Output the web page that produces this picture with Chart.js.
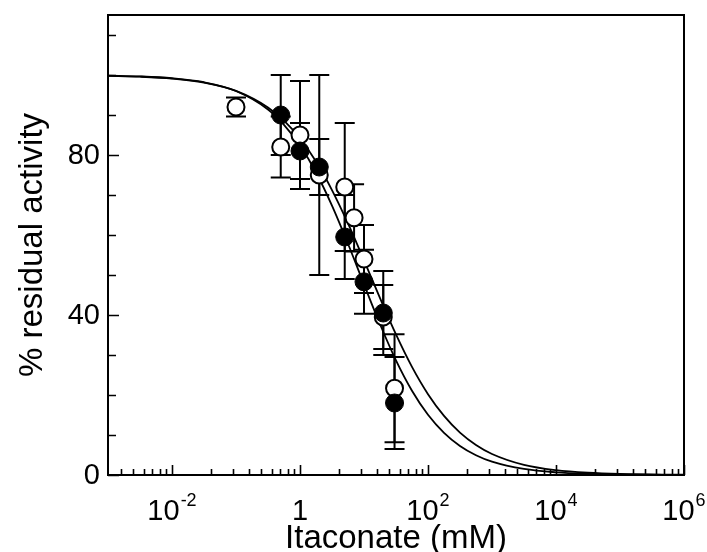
<!DOCTYPE html>
<html><head><meta charset="utf-8">
<script src="https://cdn.jsdelivr.net/npm/chart.js@4/dist/chart.umd.min.js"></script>
<style>html,body{margin:0;padding:0;background:#fff}canvas{display:block}</style>
</head><body>
<canvas id="c" width="707" height="552"></canvas>
<script>
// ---- data ----
const openX   = [0.1, 0.5, 1, 2, 5, 7, 10, 20, 30];
const openY   = [92, 82, 85, 75, 72, 64.3, 54, 39.5, 21.7];
const openErr = [2.4, 7.6, 13.5, 25, 16, 8.4, 8.5, 8, 13.5];

const filledX   = [0.5, 1, 2, 5, 10, 20, 30];
const filledY   = [90, 81, 77, 59.5, 48.3, 40.5, 18];
const filledErr = [10, 7, 7, 10.5, 8, 10.5, 11.5];

// fitted curves
const curveX      = [0.001, 0.00316, 0.01, 0.0316, 0.1, 0.316, 0.562, 1, 1.78, 3.16, 5.62, 10, 17.8, 31.6, 56.2, 100, 178, 316, 562, 1000, 3160, 10000, 31600, 100000, 1000000];
const curveFilled = [99.84, 99.64, 99.19, 98.19, 95.99, 91.37, 87.54, 82.36, 75.62, 67.34, 57.81, 47.65, 37.69, 28.67, 21.08, 15.07, 10.55, 7.27, 4.95, 3.34, 1.51, 0.67, 0.30, 0.13, 0.03];
const curveOpen   = [99.80, 99.58, 99.11, 98.11, 96.04, 91.89, 88.57, 84.12, 78.36, 71.24, 62.88, 53.67, 44.20, 35.14, 27.03, 20.21, 14.77, 10.59, 7.50, 5.25, 2.52, 1.20, 0.56, 0.26, 0.06];

// ticks
const xMajorTicks  = [0.01, 1, 100, 10000, 1000000];
const xMajorBase   = ['10', '1', '10', '10', '10'];
const xMajorExp    = ['-2', '', '2', '4', '6'];
const xMinorTicks  = [0.0016,0.0025,0.0036,0.0049,0.0064,0.0081,
                      0.04,0.09,0.16,0.25,0.36,0.49,0.64,0.81,
                      4,9,16,25,36,49,64,81,
                      400,900,1600,2500,3600,4900,6400,8100,
                      40000,90000,160000,250000,360000,490000,640000,810000];
const yTicks       = [0,10,20,30,40,50,60,70,80,90,100,110];
const yLabelTicks  = [0,40,80];
const xTitle = 'Itaconate (mM)';
const yTitle = '% residual activity';

const FONT = '"Liberation Sans", Arial, Helvetica, sans-serif';

const toXY = (xs, ys) => xs.map((x, i) => ({x: x, y: ys[i]}));

const errorBars = {
  id: 'errorBars',
  beforeDatasetsDraw(chart) {
    const ctx = chart.ctx, xs = chart.scales.x, ys = chart.scales.y;
    ctx.save();
    ctx.strokeStyle = '#000';
    ctx.lineWidth = 2;
    const draw = (X, Y, E) => {
      X.forEach((x, i) => {
        const px = xs.getPixelForValue(x);
        const top = ys.getPixelForValue(Y[i] + E[i]);
        const bot = ys.getPixelForValue(Y[i] - E[i]);
        ctx.beginPath();
        ctx.moveTo(px, top); ctx.lineTo(px, bot);
        ctx.moveTo(px - 10, top); ctx.lineTo(px + 10, top);
        ctx.moveTo(px - 10, bot); ctx.lineTo(px + 10, bot);
        ctx.stroke();
      });
    };
    draw(openX, openY, openErr);
    draw(filledX, filledY, filledErr);
    ctx.restore();
  }
};

const frame = {
  id: 'frame',
  afterDraw(chart) {
    const ctx = chart.ctx, a = chart.chartArea, xs = chart.scales.x, ys = chart.scales.y;
    ctx.save();
    ctx.strokeStyle = '#000';
    ctx.fillStyle = '#000';
    ctx.lineWidth = 2;
    ctx.strokeRect(a.left, a.top, a.right - a.left, a.bottom - a.top);
    ctx.lineWidth = 1.6;
    ctx.beginPath();
    yTicks.forEach(v => {
      const y = Math.round(ys.getPixelForValue(v)) + 0.5;
      const len = yLabelTicks.includes(v) ? 11 : 8;
      ctx.moveTo(a.left, y); ctx.lineTo(a.left + len, y);
    });
    xMajorTicks.forEach(v => {
      const x = Math.round(xs.getPixelForValue(v)) + 0.5;
      ctx.moveTo(x, a.bottom); ctx.lineTo(x, a.bottom - 10);
    });
    xMinorTicks.forEach(v => {
      const x = Math.round(xs.getPixelForValue(v)) + 0.5;
      ctx.moveTo(x, a.bottom); ctx.lineTo(x, a.bottom - 6);
    });
    ctx.stroke();

    // y tick labels
    ctx.font = '29px ' + FONT;
    ctx.textAlign = 'right';
    ctx.textBaseline = 'middle';
    yLabelTicks.forEach(v => ctx.fillText(String(v), a.left - 8, ys.getPixelForValue(v) + 1));

    // x tick labels with superscripts
    ctx.textBaseline = 'alphabetic';
    ctx.textAlign = 'left';
    xMajorTicks.forEach((v, i) => {
      const x = xs.getPixelForValue(v);
      ctx.font = '29px ' + FONT;
      const wb = ctx.measureText(xMajorBase[i]).width;
      ctx.font = '18px ' + FONT;
      const we = xMajorExp[i] ? ctx.measureText(xMajorExp[i]).width + 1 : 0;
      const start = x - (wb + we) / 2;
      ctx.font = '29px ' + FONT;
      ctx.fillText(xMajorBase[i], start, a.bottom + 45);
      if (xMajorExp[i]) {
        ctx.font = '18px ' + FONT;
        ctx.fillText(xMajorExp[i], start + wb + 1, a.bottom + 31);
      }
    });

    // axis titles
    ctx.font = '33px ' + FONT;
    ctx.textAlign = 'center';
    ctx.textBaseline = 'alphabetic';
    ctx.fillText(xTitle, (a.left + a.right) / 2, 548);
    ctx.save();
    ctx.translate(42, (a.top + a.bottom) / 2);
    ctx.rotate(-Math.PI / 2);
    ctx.fillText(yTitle, 0, 0);
    ctx.restore();
    ctx.restore();
  }
};

new Chart(document.getElementById('c'), {
  type: 'scatter',
  data: {
    datasets: [
      { type: 'line', label: 'fit filled', data: toXY(curveX, curveFilled), borderColor: '#000', borderWidth: 1.8,
        pointRadius: 0, fill: false, cubicInterpolationMode: 'monotone', order: 4 },
      { type: 'line', label: 'fit open', data: toXY(curveX, curveOpen), borderColor: '#000', borderWidth: 1.8,
        pointRadius: 0, fill: false, cubicInterpolationMode: 'monotone', order: 3 },
      { label: 'open', data: toXY(openX, openY), pointRadius: 8.5, pointBackgroundColor: '#fff',
        pointBorderColor: '#000', pointBorderWidth: 2, order: 2 },
      { label: 'filled', data: toXY(filledX, filledY), pointRadius: 9, pointBackgroundColor: '#000',
        pointBorderColor: '#000', pointBorderWidth: 1, order: 1 }
    ]
  },
  options: {
    responsive: false,
    animation: false,
    events: [],
    layout: { padding: { top: 15, right: 23, left: 0, bottom: 0 } },
    plugins: { legend: { display: false }, tooltip: { enabled: false } },
    scales: {
      x: { type: 'logarithmic', min: 0.001, max: 1000000,
           grid: { display: false }, border: { display: false }, ticks: { display: false },
           afterBuildTicks: s => { s.ticks = xMajorTicks.map(v => ({ value: v })); },
           afterFit: s => { s.height = 77; } },
      y: { type: 'linear', min: 0, max: 115,
           grid: { display: false }, border: { display: false }, ticks: { display: false },
           afterBuildTicks: s => { s.ticks = yLabelTicks.map(v => ({ value: v })); },
           afterFit: s => { s.width = 108; } }
    }
  },
  plugins: [errorBars, frame]
});
</script>
</body></html>
